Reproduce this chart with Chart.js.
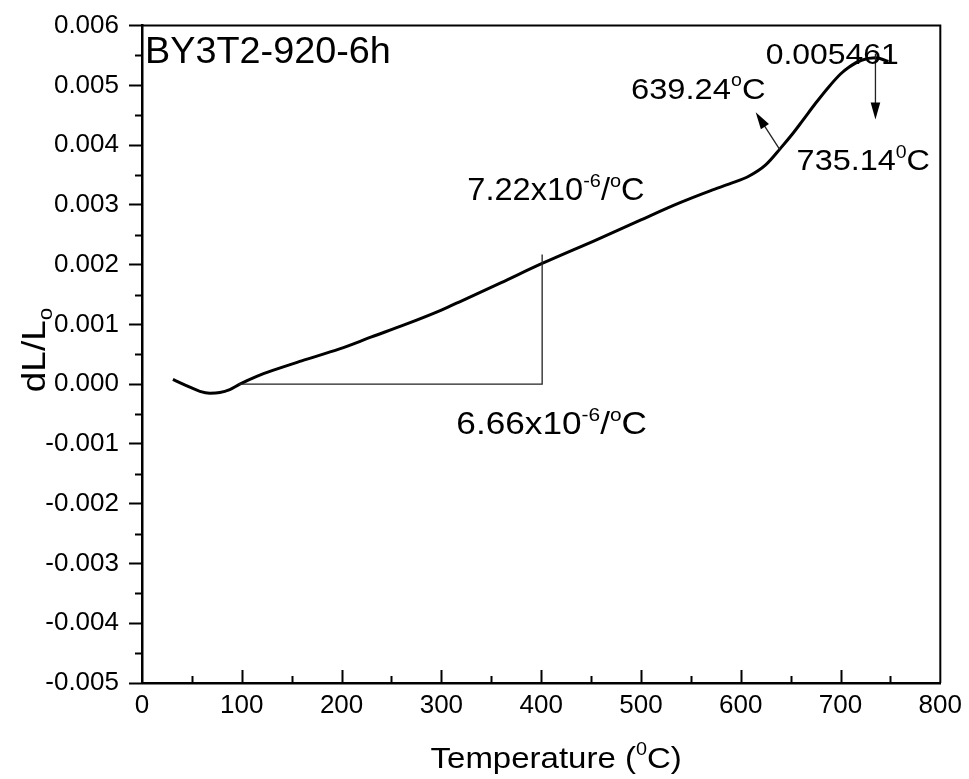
<!DOCTYPE html>
<html>
<head>
<meta charset="utf-8">
<script src="https://cdn.jsdelivr.net/npm/chart.js@4.4.1/dist/chart.umd.min.js"></script>
<style>
  html, body { margin: 0; padding: 0; background: #fff; }
  #wrap { width: 969px; height: 779px; }
</style>
</head>
<body>
<div id="wrap"><canvas id="c" width="969" height="779"></canvas></div>
<script>
// Dilatometer curve: relative length change vs temperature
const temperature = [31, 40, 48, 58, 68, 78, 88, 98, 115, 131, 160, 198, 230, 264, 300, 321, 360, 401, 456, 500, 538, 570, 590, 608, 625, 640, 652, 662, 675, 688, 700, 708, 721, 735, 748];
const dLL = [0.00008, 0.00001, -0.00005, -0.00012, -0.00015, -0.00014, -0.00009, 0.00000, 0.00013, 0.00023, 0.00039, 0.00059, 0.00079, 0.00100, 0.00124, 0.00140, 0.00170, 0.00202, 0.00242, 0.00275, 0.00303, 0.00324, 0.00336, 0.00348, 0.00367, 0.00395, 0.00419, 0.00441, 0.00470, 0.00497, 0.00519, 0.00530, 0.00542, 0.005461, 0.00540];

// Axis ranges and tick spacing
const xRange = [0, 800];
const xStep = 100;
const yRange = [-0.005, 0.006];
const yStep = 0.001;

// Slope guide (horizontal leg then vertical leg), in data units
const guideT = [97, 401, 401];
const guideV = [0, 0, 0.00217];

// Arrows: [fromT, fromV, toT, toV]
const arrows = [
  [639, 0.00393, 615, 0.00455],
  [735, 0.00553, 735, 0.00443]
];

// Text labels: segments (n = normal, p = superscript), anchor in data units
const notes = [
  { seg: [['n', 'BY3T2-920-6h']], t: 3, v: 0.00538, size: 36, sx: 1.05 },
  { seg: [['n', '0.005461']], t: 625, v: 0.00536, size: 29, sx: 1.1 },
  { seg: [['n', '639.24'], ['p', 'o'], ['n', 'C']], t: 490, v: 0.00478, size: 30, sx: 1.09 },
  { seg: [['n', '735.14'], ['p', '0'], ['n', 'C']], t: 656, v: 0.00358, size: 30, sx: 1.08 },
  { seg: [['n', '7.22x10'], ['p', '-6'], ['n', '/'], ['p', 'o'], ['n', 'C']], t: 326, v: 0.00308, size: 31, sx: 1.05 },
  { seg: [['n', '6.66x10'], ['p', '-6'], ['n', '/'], ['p', 'o'], ['n', 'C']], t: 315, v: -0.00084, size: 32, sx: 1.1 }
];

const FONT = '"Liberation Sans", Arial, sans-serif';

function segWidth(ctx, seg, size) {
  let w = 0;
  for (const [k, s] of seg) {
    ctx.font = (k === 'n' ? size : Math.round(size * 0.6)) + 'px ' + FONT;
    w += ctx.measureText(s).width;
  }
  return w;
}

// draws mixed normal / superscript / subscript runs, stretched horizontally by sx
function drawSegs(ctx, seg, x, y, size, sx) {
  ctx.save();
  ctx.translate(x, y);
  ctx.scale(sx || 1, 1);
  ctx.textBaseline = 'alphabetic';
  ctx.textAlign = 'left';
  let cx = 0;
  for (const [k, s] of seg) {
    if (k === 'n') {
      ctx.font = size + 'px ' + FONT;
      ctx.fillText(s, cx, 0);
    } else if (k === 'p') {
      ctx.font = Math.round(size * 0.6) + 'px ' + FONT;
      ctx.fillText(s, cx, -size * 0.42);
    } else {
      ctx.font = Math.round(size * 0.6) + 'px ' + FONT;
      ctx.fillText(s, cx, size * 0.2);
    }
    cx += ctx.measureText(s).width;
  }
  ctx.restore();
}

function arrowHead(ctx, x0, y0, x1, y1, len, half) {
  const a = Math.atan2(y1 - y0, x1 - x0);
  ctx.beginPath();
  ctx.moveTo(x1, y1);
  ctx.lineTo(x1 - len * Math.cos(a) + half * Math.sin(a), y1 - len * Math.sin(a) - half * Math.cos(a));
  ctx.lineTo(x1 - len * Math.cos(a) - half * Math.sin(a), y1 - len * Math.sin(a) + half * Math.cos(a));
  ctx.closePath();
  ctx.fill();
}

const decorations = {
  id: 'decorations',
  afterDraw(chart) {
    const { ctx, chartArea: a, scales: { x, y } } = chart;
    ctx.save();
    ctx.fillStyle = '#000';
    ctx.strokeStyle = '#000';

    // top and right frame
    ctx.lineWidth = 2;
    ctx.beginPath();
    ctx.moveTo(a.left, a.top);
    ctx.lineTo(a.right, a.top);
    ctx.lineTo(a.right, a.bottom);
    ctx.stroke();

    // x ticks point inward (major + minor)
    ctx.lineWidth = 2;
    for (let t = xRange[0] + xStep / 2; t < xRange[1] - 1e-9; t += xStep / 2) {
      const px = Math.round(x.getPixelForValue(t)) + 0.5;
      const major = Math.abs(t / xStep - Math.round(t / xStep)) < 1e-9;
      ctx.beginPath();
      ctx.moveTo(px, a.bottom);
      ctx.lineTo(px, a.bottom - (major ? 13 : 7));
      ctx.stroke();
    }
    // y minor ticks point outward
    for (let k = 0; k < Math.round((yRange[1] - yRange[0]) / yStep); k++) {
      const v = yRange[0] + (k + 0.5) * yStep;
      const py = Math.round(y.getPixelForValue(v)) + 0.5;
      ctx.beginPath();
      ctx.moveTo(a.left, py);
      ctx.lineTo(a.left - 7, py);
      ctx.stroke();
    }

    // slope guide lines
    ctx.lineWidth = 1.3;
    ctx.strokeStyle = '#222';
    ctx.beginPath();
    guideT.forEach((t, i) => {
      const px = x.getPixelForValue(t), py = y.getPixelForValue(guideV[i]);
      if (i === 0) ctx.moveTo(px, py); else ctx.lineTo(px, py);
    });
    ctx.stroke();

    // arrows
    ctx.lineWidth = 1.3;
    for (const [t0, v0, t1, v1] of arrows) {
      const x0 = x.getPixelForValue(t0), y0 = y.getPixelForValue(v0);
      const x1 = x.getPixelForValue(t1), y1 = y.getPixelForValue(v1);
      const ang = Math.atan2(y1 - y0, x1 - x0);
      ctx.beginPath();
      ctx.moveTo(x0, y0);
      ctx.lineTo(x1 - 12 * Math.cos(ang), y1 - 12 * Math.sin(ang));
      ctx.stroke();
      arrowHead(ctx, x0, y0, x1, y1, 17, 4.8);
    }

    // text labels
    ctx.fillStyle = '#000';
    for (const n of notes) {
      drawSegs(ctx, n.seg, x.getPixelForValue(n.t), y.getPixelForValue(n.v), n.size, n.sx);
    }

    // x axis title
    const xt = [['n', 'Temperature ('], ['p', '0'], ['n', 'C)']];
    const xs = 30, xsx = 1.1;
    const xw = segWidth(ctx, xt, xs) * xsx;
    drawSegs(ctx, xt, (a.left + a.right) / 2 - xw / 2 + 15, 768, xs, xsx);

    // y axis title (rotated)
    const yt = [['n', 'dL/L'], ['b', 'o']];
    const ys = 33, ysx = 1.12;
    const yw = segWidth(ctx, yt, ys) * ysx;
    ctx.save();
    ctx.translate(45, 350);
    ctx.rotate(-Math.PI / 2);
    drawSegs(ctx, yt, -yw / 2, 0, ys, ysx);
    ctx.restore();

    ctx.restore();
  }
};

new Chart(document.getElementById('c'), {
  type: 'line',
  data: {
    datasets: [{
      data: temperature.map((t, i) => ({ x: t, y: dLL[i] })),
      borderColor: '#000',
      borderWidth: 3,
      pointRadius: 0,
      fill: false,
      cubicInterpolationMode: 'monotone'
    }]
  },
  options: {
    responsive: false,
    animation: false,
    layout: { padding: { top: 25, right: 26, left: 0, bottom: 0 } },
    plugins: { legend: { display: false }, tooltip: { enabled: false } },
    scales: {
      x: {
        type: 'linear',
        min: xRange[0],
        max: xRange[1],
        afterFit(s) { s.height = 96; },
        ticks: {
          stepSize: xStep,
          color: '#000',
          padding: 7,
          font: { family: FONT, size: 26 },
          maxRotation: 0
        },
        grid: { display: true, drawOnChartArea: false, drawTicks: false, color: '#000' },
        border: { display: true, color: '#000', width: 2.5 }
      },
      y: {
        type: 'linear',
        min: yRange[0],
        max: yRange[1],
        afterFit(s) { s.width = 142; },
        ticks: {
          stepSize: yStep,
          color: '#000',
          padding: 10,
          font: { family: FONT, size: 26 },
          callback: v => (Math.abs(v) < 1e-9 ? 0 : v).toFixed(3)
        },
        grid: { display: true, drawOnChartArea: false, drawTicks: true, tickLength: 13, tickWidth: 2, tickColor: '#000', color: '#000' },
        border: { display: true, color: '#000', width: 2.5 }
      }
    }
  },
  plugins: [decorations]
});
</script>
</body>
</html>
